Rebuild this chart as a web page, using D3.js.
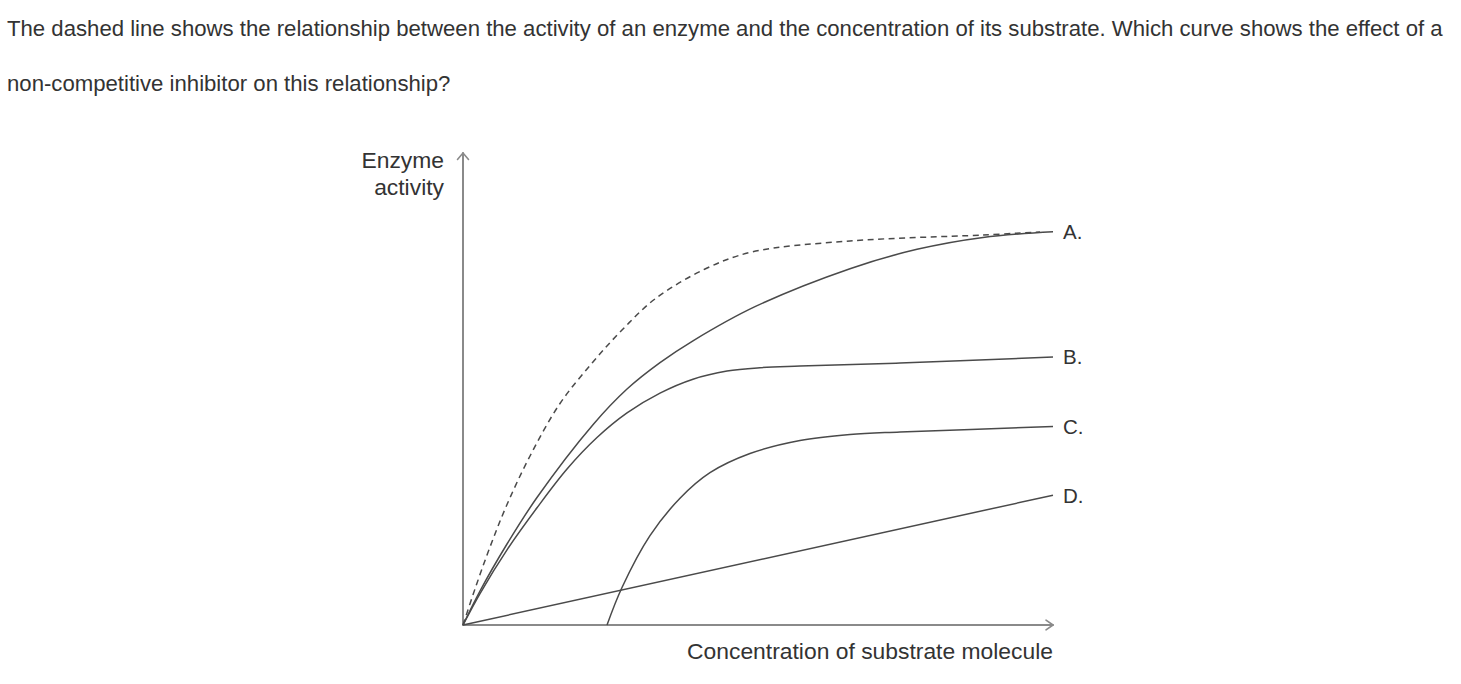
<!DOCTYPE html>
<html>
<head>
<meta charset="utf-8">
<script src="https://cdn.jsdelivr.net/npm/d3@7"></script>
<style>
  html, body { margin: 0; padding: 0; background: #fff; }
  svg { display: block; }
  text { font-family: "Liberation Sans", Arial, Helvetica, sans-serif; fill: #333; }
</style>
</head>
<body>
<svg id="chart" width="1461" height="684"></svg>
<script>
// ---- text ----
const questionLines = [
  "The dashed line shows the relationship between the activity of an enzyme and the concentration of its substrate. Which curve shows the effect of a",
  "non-competitive inhibitor on this relationship?"
];
const yAxisLabel = ["Enzyme", "activity"];
const xAxisLabel = "Concentration of substrate molecule";

// ---- data (x: substrate concentration 0-100, y: enzyme activity 0-100) ----
const dashedX = [0, 2.03, 4.58, 7.46, 11.36, 16.44, 22.03, 26.95, 32.54, 41.02, 48.98, 65.59, 88.14, 97.8];
const dashedY = [0, 7.63, 16.53, 25.53, 35.81, 46.93, 55.72, 62.50, 69.07, 75.42, 79.03, 81.36, 82.63, 83.26];

const curveAX = [0, 2.88, 7.46, 12.54, 22.03, 27.80, 33.39, 38.98, 49.49, 65.59, 76.95, 88.14, 100];
const curveAY = [0, 7.20, 17.16, 27.01, 42.44, 50.00, 55.59, 60.21, 67.44, 75.49, 79.60, 82.12, 83.31];

const curveBX = [0, 2.88, 7.46, 12.54, 17.63, 22.71, 27.80, 33.39, 38.98, 44.75, 50.34, 57.12, 74.07, 100];
const curveBY = [0, 6.67, 15.93, 24.83, 33.05, 39.72, 44.94, 49.13, 52.08, 53.81, 54.51, 54.85, 55.49, 56.78];

const curveCX = [24.41, 26.95, 31.69, 36.78, 41.86, 48.64, 57.12, 65.59, 74.07, 100];
const curveCY = [0, 7.94, 18.92, 26.86, 32.27, 36.33, 39.09, 40.36, 40.89, 42.03];

const curveDX = [0, 100];
const curveDY = [0, 27.5];

const curveLabels = ["A.", "B.", "C.", "D."];

// ---- layout ----
const svg = d3.select("#chart");
const x = d3.scaleLinear().domain([0, 100]).range([463, 1053]);
const y = d3.scaleLinear().domain([0, 100]).range([625, 153]);

const lineColor = "#4a4a4a";
const axisColor = "#8a8a8a";

// question text
const q = svg.append("g");
const q1 = q.append("text").attr("x", 7).attr("y", 35.5).attr("font-size", 19).text(questionLines[0]);
const q2 = q.append("text").attr("x", 7).attr("y", 90.5).attr("font-size", 19).text(questionLines[1]);
const w1 = q1.node().getComputedTextLength();
const qfs = 19 * 1436 / w1;
q1.attr("font-size", qfs);
q2.attr("font-size", qfs);

// axes
const axes = svg.append("g").attr("stroke", axisColor).attr("stroke-width", 2).attr("fill", "none")
  .attr("stroke-linecap", "round").attr("stroke-linejoin", "round");
axes.append("line").attr("x1", x(0)).attr("y1", y(0)).attr("x2", x(100)).attr("y2", y(0));
axes.append("line").attr("x1", x(0)).attr("y1", y(0)).attr("x2", x(0)).attr("y2", y(100));
axes.append("path").attr("d", `M${x(0) - 5.5},${y(100) + 6.5}L${x(0)},${y(100)}L${x(0) + 5.5},${y(100) + 6.5}`)
  .attr("stroke-width", 1.6);
axes.append("path").attr("d", `M${x(100) - 7},${y(0) - 4.8}L${x(100)},${y(0)}L${x(100) - 7},${y(0) + 4.8}`)
  .attr("stroke-width", 1.6);

// curves
const line = d3.line().x(d => x(d[0])).y(d => y(d[1])).curve(d3.curveCatmullRom.alpha(0.5));
const zip = (xs, ys) => xs.map((v, i) => [v, ys[i]]);

const curves = [
  zip(curveAX, curveAY),
  zip(curveBX, curveBY),
  zip(curveCX, curveCY),
  zip(curveDX, curveDY)
];

const plot = svg.append("g").attr("fill", "none").attr("stroke", lineColor).attr("stroke-width", 1.5);
plot.append("path").attr("d", line(zip(dashedX, dashedY)))
  .attr("stroke-dasharray", "6,4.5");
plot.selectAll("path.solid").data(curves).join("path")
  .attr("class", "solid")
  .attr("d", d => line(d));

// curve labels
const labelFs = 20.5;
svg.append("g").selectAll("text").data(curves).join("text")
  .attr("x", 1063)
  .attr("y", d => y(d[d.length - 1][1]))
  .attr("dy", "0.36em")
  .attr("font-size", labelFs)
  .text((d, i) => curveLabels[i]);

// axis titles
const xl = svg.append("text").attr("x", x(100)).attr("y", 659).attr("text-anchor", "end")
  .attr("font-size", labelFs).text(xAxisLabel);
const xw = xl.node().getComputedTextLength();
const afs = labelFs * 366 / xw;
xl.attr("font-size", afs);

svg.append("g").selectAll("text").data(yAxisLabel).join("text")
  .attr("x", 444)
  .attr("y", (d, i) => 168 + i * 27)
  .attr("text-anchor", "end")
  .attr("font-size", afs)
  .text(d => d);
</script>
</body>
</html>
